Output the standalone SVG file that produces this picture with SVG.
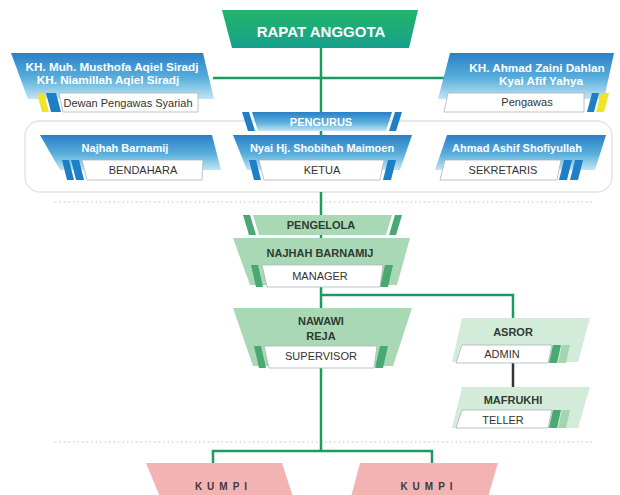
<svg xmlns="http://www.w3.org/2000/svg" width="620" height="495" viewBox="0 0 620 495">
<defs>
<linearGradient id="gBlue" x1="0" y1="0" x2="0" y2="1">
<stop offset="0" stop-color="#2a80c5"/>
<stop offset="0.55" stop-color="#5aafdc"/>
<stop offset="1" stop-color="#c2e5f4"/>
</linearGradient>
<linearGradient id="gTop" x1="0" y1="0" x2="0" y2="1">
<stop offset="0" stop-color="#22b46a"/>
<stop offset="1" stop-color="#17a08c"/>
</linearGradient>
<style>
.blue{fill:url(#gBlue)}
.wbox{fill:#fff;stroke:#a9b4ba;stroke-width:0.8}
.stB{fill:#1f7fc6}
.stY{fill:#f1e32a}
.gMid{fill:#a9d9b4}
.gLt{fill:#d3ecd9}
.stG{fill:#4aa872}
.stGl{fill:#a3d6b0}
.pink{fill:#f4b3b3}
.tw{font-family:'Liberation Sans',Arial,sans-serif;font-weight:bold;font-size:11px;fill:#fff;text-anchor:middle}
.twl{font-family:'Liberation Sans',Arial,sans-serif;font-weight:bold;font-size:11.7px;fill:#fff;text-anchor:middle}
.td{font-family:'Liberation Sans',Arial,sans-serif;font-size:11px;fill:#333;text-anchor:middle}
.tg{font-family:'Liberation Sans',Arial,sans-serif;font-weight:bold;font-size:11px;fill:#2f3a34;text-anchor:middle}
.tk{font-family:'Liberation Sans',Arial,sans-serif;font-weight:bold;font-size:10px;fill:#3a3a3a;text-anchor:middle;letter-spacing:5px}
.conn{stroke:#1d9a60;stroke-width:2.5;fill:none}
.dark{stroke:#333;stroke-width:2.5;fill:none}
.dot{stroke:#f0b4a4;stroke-width:1.2;stroke-dasharray:1.5 3;fill:none}
</style>
</defs>
<rect width="620" height="495" fill="#fff"/>

<line class="dot" x1="55" y1="202" x2="593" y2="202"/>
<line class="dot" x1="55" y1="442" x2="593" y2="442"/>

<rect x="25" y="121" width="587" height="71" rx="15" fill="#fff" stroke="#dde2e5" stroke-width="1.3"/>

<g id="connectors">
<path class="conn" d="M321 48V112M213 78H444M321 130V136M321 192V215M321 235V238M321 287V308M321 368V451M213 463V451H432V463M321 295H513V318"/>
<path class="dark" d="M513 363V388"/>
</g>

<g id="rapat">
<polygon points="222,10 418,10 409,48 232,48" fill="url(#gTop)"/>
<text x="321" y="37" font-family="'Liberation Sans',Arial,sans-serif" font-weight="bold" font-size="15" fill="#fff" text-anchor="middle">RAPAT ANGGOTA</text>
</g>

<g id="dewan">
<polygon class="blue" points="11,53 203,53 214,99 28,99"/>
<polygon class="stY" points="37,93 44,93 49,112 42,112"/>
<polygon class="stB" points="46,93 56,93 61,112 51,112"/>
<polygon class="wbox" points="59,93 198,93 198,112 63,112"/>
<text class="twl" x="112" y="71">KH. Muh. Musthofa Aqiel Siradj</text>
<text class="twl" x="108" y="84">KH. Niamillah Aqiel Siradj</text>
<text class="td" x="128" y="106.5">Dewan Pengawas Syariah</text>
</g>

<g id="pengawas">
<polygon class="blue" points="450,53 614,53 604,99 438,99"/>
<polygon class="wbox" points="448,93 584,93 584,112 444,112"/>
<polygon class="stB" points="592,93 599,93 594,112 587,112"/>
<polygon class="stY" points="601,93 609,93 604,112 596,112"/>
<text class="twl" x="537" y="72">KH. Ahmad Zaini Dahlan</text>
<text class="twl" x="541" y="85">Kyai Afif Yahya</text>
<text class="td" x="527" y="106">Pengawas</text>
</g>

<g id="pengurus">
<polygon class="blue" points="252,112 392,112 386,131 258,131"/>
<polygon class="stB" points="242,112 249,112 255,131 248,131"/>
<polygon class="stB" points="395,112 402,112 396,131 389,131"/>
<text class="tw" x="321" y="125.5">PENGURUS</text>
</g>

<g id="bendahara">
<polygon class="blue" points="40,135 212,135 221,170 60,170"/>
<polygon class="stB" points="62,160 69,160 74,180 67,180"/>
<polygon class="stB" points="71,160 79,160 84,180 76,180"/>
<polygon class="wbox" points="82,160 203,160 202,180 87,180"/>
<text class="tw" x="125" y="152">Najhah Barnamij</text>
<text class="td" x="143" y="174">BENDAHARA</text>
</g>

<g id="ketua">
<polygon class="blue" points="233,135 412,135 400,170 247,170"/>
<polygon class="stB" points="249,160 256,160 261,180 254,180"/>
<polygon class="stB" points="388,160 396,160 391,180 383,180"/>
<polygon class="wbox" points="259,160 384,160 380,180 264,180"/>
<text class="tw" x="322" y="152">Nyai Hj. Shobihah Maimoen</text>
<text class="td" x="322" y="174">KETUA</text>
</g>

<g id="sekretaris">
<polygon class="blue" points="447,135 606,135 595,170 435,170"/>
<polygon class="wbox" points="445,160 561,160 557,180 440,180"/>
<polygon class="stB" points="564,160 572,160 567,180 559,180"/>
<polygon class="stB" points="575,160 583,160 578,180 570,180"/>
<text class="tw" x="517" y="152">Ahmad Ashif Shofiyullah</text>
<text class="td" x="503" y="174">SEKRETARIS</text>
</g>

<g id="pengelola">
<polygon class="gMid" points="253,215 392,215 386,235 259,235"/>
<polygon class="stG" points="243,215 250,215 256,235 249,235"/>
<polygon class="stG" points="395,215 402,215 396,235 389,235"/>
<text class="tg" x="321" y="229">PENGELOLA</text>
</g>

<g id="manager">
<polygon class="gMid" points="233,238 410,238 397,285 250,285"/>
<polygon class="stG" points="251,265 258,265 263,287 256,287"/>
<polygon class="stG" points="385,265 393,265 388,287 380,287"/>
<polygon class="wbox" points="262,265 383,265 380,287 267,287"/>
<text class="tg" x="320" y="257">NAJHAH BARNAMIJ</text>
<text class="td" x="320" y="280">MANAGER</text>
</g>

<g id="supervisor">
<polygon class="gMid" points="233,308 412,308 393,366 253,366"/>
<polygon class="stG" points="254,346 261,346 266,368 259,368"/>
<polygon class="stG" points="380,346 388,346 383,368 375,368"/>
<polygon class="wbox" points="264,346 377,346 374,368 269,368"/>
<text class="tg" x="321" y="325">NAWAWI</text>
<text class="tg" x="321" y="340">REJA</text>
<text class="td" x="321" y="360">SUPERVISOR</text>
</g>

<g id="admin">
<polygon class="gLt" points="462,318 590,318 578,362 452,362"/>
<polygon class="wbox" points="462,345 552,345 548,363 456,363"/>
<polygon class="stG" points="553,345 561,345 557,363 549,363"/>
<polygon class="stGl" points="562,345 570,345 566,363 558,363"/>
<text class="tg" x="513" y="336">ASROR</text>
<text class="td" x="502" y="358">ADMIN</text>
</g>

<g id="teller">
<polygon class="gLt" points="462,387 590,387 578,428 452,428"/>
<polygon class="wbox" points="462,410 552,410 548,428 456,428"/>
<polygon class="stG" points="553,410 561,410 557,428 549,428"/>
<polygon class="stGl" points="562,410 570,410 566,428 558,428"/>
<text class="tg" x="513" y="404">MAFRUKHI</text>
<text class="td" x="503" y="423.5">TELLER</text>
</g>

<g id="kumpi1">
<polygon class="pink" points="146,463 282,463 293,497 160,497"/>
<text class="tk" x="223.5" y="490">KUMPI</text>
</g>

<g id="kumpi2">
<polygon class="pink" points="360,463 498,463 488,497 351,497"/>
<text class="tk" x="429" y="490">KUMPI</text>
</g>
</svg>
